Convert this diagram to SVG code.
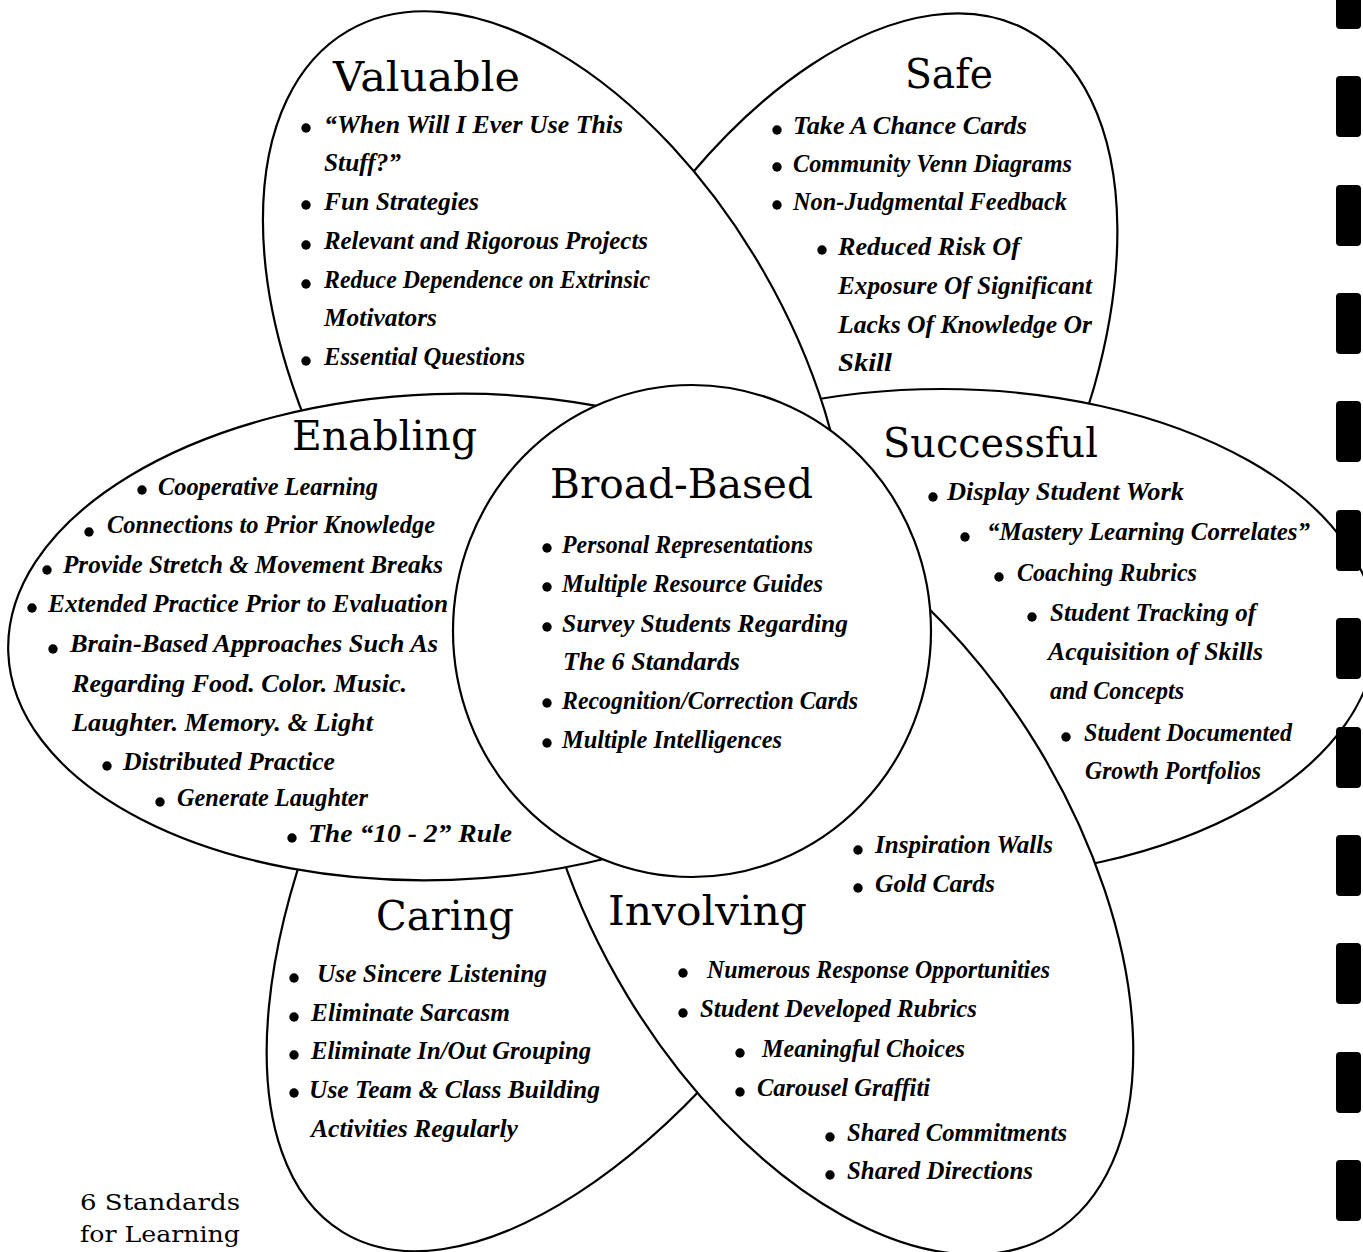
<svg xmlns="http://www.w3.org/2000/svg" width="1363" height="1252" viewBox="0 0 1363 1252">
  <style>
    .petal { fill: #ffffff; stroke: #000000; stroke-width: 2.2; }
    .title { font-family: "DejaVu Serif", "Liberation Serif", serif; font-size: 41px; fill: #000000; }
    .item { font-family: "Liberation Serif", "DejaVu Serif", serif; font-style: italic; font-weight: bold; font-size: 25px; fill: #000000; }
    .dot { fill: #000000; }
    .note { font-family: "DejaVu Serif", "Liberation Serif", serif; font-size: 23px; fill: #000000; }
    .hole { fill: #000000; }
  </style>
  <defs>
    <circle id="bullet" r="4.7" class="dot"/>
  </defs>
  <rect x="0" y="0" width="1363" height="1252" fill="#ffffff"/>

  <!-- petals are stacked back to front -->
  <g id="caring">
    <ellipse class="petal" cx="617" cy="781" rx="528" ry="255" transform="rotate(121.3 617 781)"/>
    <text class="title" x="376" y="930" textLength="138" lengthAdjust="spacingAndGlyphs">Caring</text>
    <use href="#bullet" x="294" y="978"/>
    <use href="#bullet" x="294" y="1017"/>
    <use href="#bullet" x="294" y="1055"/>
    <use href="#bullet" x="294" y="1093"/>
    <text class="item" x="317" y="982" textLength="230" lengthAdjust="spacingAndGlyphs">Use Sincere Listening</text>
    <text class="item" x="311" y="1021" textLength="199" lengthAdjust="spacingAndGlyphs">Eliminate Sarcasm</text>
    <text class="item" x="311" y="1059" textLength="280" lengthAdjust="spacingAndGlyphs">Eliminate In/Out Grouping</text>
    <text class="item" x="309" y="1098" textLength="291" lengthAdjust="spacingAndGlyphs">Use Team &amp; Class Building</text>
    <text class="item" x="311" y="1137" textLength="207" lengthAdjust="spacingAndGlyphs">Activities Regularly</text>
  </g>

  <g id="safe">
    <ellipse class="petal" cx="815" cy="427" rx="450" ry="245" transform="rotate(-62 815 427)"/>
    <text class="title" x="905" y="88" textLength="88" lengthAdjust="spacingAndGlyphs">Safe</text>
    <use href="#bullet" x="777" y="130"/>
    <use href="#bullet" x="777" y="167"/>
    <use href="#bullet" x="777" y="205"/>
    <use href="#bullet" x="822" y="250"/>
    <text class="item" x="793" y="134" textLength="234" lengthAdjust="spacingAndGlyphs">Take A Chance Cards</text>
    <text class="item" x="793" y="172" textLength="279" lengthAdjust="spacingAndGlyphs">Community Venn Diagrams</text>
    <text class="item" x="793" y="210" textLength="274" lengthAdjust="spacingAndGlyphs">Non-Judgmental Feedback</text>
    <text class="item" x="838" y="255" textLength="182" lengthAdjust="spacingAndGlyphs">Reduced Risk Of</text>
    <text class="item" x="838" y="294" textLength="254" lengthAdjust="spacingAndGlyphs">Exposure Of Significant</text>
    <text class="item" x="838" y="333" textLength="254" lengthAdjust="spacingAndGlyphs">Lacks Of Knowledge Or</text>
    <text class="item" x="838" y="371" textLength="54" lengthAdjust="spacingAndGlyphs">Skill</text>
  </g>

  <g id="successful">
    <ellipse class="petal" cx="942" cy="634" rx="434" ry="245"/>
    <text class="title" x="883" y="457" textLength="215" lengthAdjust="spacingAndGlyphs">Successful</text>
    <use href="#bullet" x="933" y="497"/>
    <use href="#bullet" x="965" y="537"/>
    <use href="#bullet" x="999" y="577"/>
    <use href="#bullet" x="1032" y="617"/>
    <use href="#bullet" x="1066" y="737"/>
    <text class="item" x="947" y="500" textLength="237" lengthAdjust="spacingAndGlyphs">Display Student Work</text>
    <text class="item" x="987" y="540" textLength="323" lengthAdjust="spacingAndGlyphs">“Mastery Learning Correlates”</text>
    <text class="item" x="1017" y="581" textLength="180" lengthAdjust="spacingAndGlyphs">Coaching Rubrics</text>
    <text class="item" x="1050" y="621" textLength="206" lengthAdjust="spacingAndGlyphs">Student Tracking of</text>
    <text class="item" x="1048" y="660" textLength="215" lengthAdjust="spacingAndGlyphs">Acquisition of Skills</text>
    <text class="item" x="1050" y="699" textLength="134" lengthAdjust="spacingAndGlyphs">and Concepts</text>
    <text class="item" x="1084" y="741" textLength="208" lengthAdjust="spacingAndGlyphs">Student Documented</text>
    <text class="item" x="1085" y="779" textLength="176" lengthAdjust="spacingAndGlyphs">Growth Portfolios</text>
  </g>

  <g id="valuable">
    <ellipse class="petal" cx="556" cy="390" rx="415" ry="239" transform="rotate(60 556 390)"/>
    <text class="title" x="333" y="91" textLength="187" lengthAdjust="spacingAndGlyphs">Valuable</text>
    <use href="#bullet" x="306" y="128"/>
    <use href="#bullet" x="306" y="205"/>
    <use href="#bullet" x="306" y="245"/>
    <use href="#bullet" x="306" y="284"/>
    <use href="#bullet" x="306" y="361"/>
    <text class="item" x="324" y="133" textLength="299" lengthAdjust="spacingAndGlyphs">“When Will I Ever Use This</text>
    <text class="item" x="324" y="171" textLength="77" lengthAdjust="spacingAndGlyphs">Stuff?”</text>
    <text class="item" x="324" y="210" textLength="155" lengthAdjust="spacingAndGlyphs">Fun Strategies</text>
    <text class="item" x="324" y="249" textLength="324" lengthAdjust="spacingAndGlyphs">Relevant and Rigorous Projects</text>
    <text class="item" x="324" y="288" textLength="326" lengthAdjust="spacingAndGlyphs">Reduce Dependence on Extrinsic</text>
    <text class="item" x="324" y="326" textLength="113" lengthAdjust="spacingAndGlyphs">Motivators</text>
    <text class="item" x="324" y="365" textLength="201" lengthAdjust="spacingAndGlyphs">Essential Questions</text>
  </g>

  <g id="involving">
    <ellipse class="petal" cx="833" cy="872" rx="423" ry="240" transform="rotate(58.8 833 872)"/>
    <text class="title" x="608" y="925" textLength="199" lengthAdjust="spacingAndGlyphs">Involving</text>
    <use href="#bullet" x="858" y="850"/>
    <use href="#bullet" x="858" y="888"/>
    <use href="#bullet" x="683" y="973"/>
    <use href="#bullet" x="683" y="1013"/>
    <use href="#bullet" x="740" y="1053"/>
    <use href="#bullet" x="740" y="1092"/>
    <use href="#bullet" x="830" y="1137"/>
    <use href="#bullet" x="830" y="1175"/>
    <text class="item" x="875" y="853" textLength="178" lengthAdjust="spacingAndGlyphs">Inspiration Walls</text>
    <text class="item" x="875" y="892" textLength="120" lengthAdjust="spacingAndGlyphs">Gold Cards</text>
    <text class="item" x="707" y="978" textLength="343" lengthAdjust="spacingAndGlyphs">Numerous Response Opportunities</text>
    <text class="item" x="700" y="1017" textLength="277" lengthAdjust="spacingAndGlyphs">Student Developed Rubrics</text>
    <text class="item" x="762" y="1057" textLength="203" lengthAdjust="spacingAndGlyphs">Meaningful Choices</text>
    <text class="item" x="757" y="1096" textLength="173" lengthAdjust="spacingAndGlyphs">Carousel Graffiti</text>
    <text class="item" x="847" y="1141" textLength="220" lengthAdjust="spacingAndGlyphs">Shared Commitments</text>
    <text class="item" x="847" y="1179" textLength="186" lengthAdjust="spacingAndGlyphs">Shared Directions</text>
  </g>

  <g id="enabling">
    <ellipse class="petal" cx="443" cy="637" rx="435" ry="243" transform="rotate(-2 443 637)"/>
    <text class="title" x="292" y="450" textLength="185" lengthAdjust="spacingAndGlyphs">Enabling</text>
    <use href="#bullet" x="142" y="490"/>
    <use href="#bullet" x="89" y="532"/>
    <use href="#bullet" x="47" y="570"/>
    <use href="#bullet" x="32" y="608"/>
    <use href="#bullet" x="53" y="649"/>
    <use href="#bullet" x="107" y="766"/>
    <use href="#bullet" x="160" y="802"/>
    <use href="#bullet" x="292" y="838"/>
    <text class="item" x="158" y="495" textLength="220" lengthAdjust="spacingAndGlyphs">Cooperative Learning</text>
    <text class="item" x="107" y="533" textLength="328" lengthAdjust="spacingAndGlyphs">Connections to Prior Knowledge</text>
    <text class="item" x="63" y="573" textLength="380" lengthAdjust="spacingAndGlyphs">Provide Stretch &amp; Movement Breaks</text>
    <text class="item" x="48" y="612" textLength="400" lengthAdjust="spacingAndGlyphs">Extended Practice Prior to Evaluation</text>
    <text class="item" x="70" y="652" textLength="368" lengthAdjust="spacingAndGlyphs">Brain-Based Approaches Such As</text>
    <text class="item" x="72" y="692" textLength="335" lengthAdjust="spacingAndGlyphs">Regarding Food. Color. Music.</text>
    <text class="item" x="72" y="731" textLength="301" lengthAdjust="spacingAndGlyphs">Laughter. Memory. &amp; Light</text>
    <text class="item" x="123" y="770" textLength="212" lengthAdjust="spacingAndGlyphs">Distributed Practice</text>
    <text class="item" x="177" y="806" textLength="191" lengthAdjust="spacingAndGlyphs">Generate Laughter</text>
    <text class="item" x="308" y="842" textLength="204" lengthAdjust="spacingAndGlyphs">The “10 - 2” Rule</text>
  </g>

  <g id="broad-based">
    <ellipse class="petal" cx="692" cy="631" rx="239" ry="246"/>
    <text class="title" x="550" y="498" textLength="263" lengthAdjust="spacingAndGlyphs">Broad-Based</text>
    <use href="#bullet" x="547" y="548"/>
    <use href="#bullet" x="547" y="587"/>
    <use href="#bullet" x="547" y="627"/>
    <use href="#bullet" x="547" y="703"/>
    <use href="#bullet" x="547" y="743"/>
    <text class="item" x="562" y="553" textLength="251" lengthAdjust="spacingAndGlyphs">Personal Representations</text>
    <text class="item" x="562" y="592" textLength="261" lengthAdjust="spacingAndGlyphs">Multiple Resource Guides</text>
    <text class="item" x="562" y="632" textLength="286" lengthAdjust="spacingAndGlyphs">Survey Students Regarding</text>
    <text class="item" x="563" y="670" textLength="177" lengthAdjust="spacingAndGlyphs">The 6 Standards</text>
    <text class="item" x="562" y="709" textLength="296" lengthAdjust="spacingAndGlyphs">Recognition/Correction Cards</text>
    <text class="item" x="562" y="748" textLength="220" lengthAdjust="spacingAndGlyphs">Multiple Intelligences</text>
  </g>

  <g id="caption">
    <text class="note" x="80" y="1210" textLength="160" lengthAdjust="spacingAndGlyphs">6 Standards</text>
    <text class="note" x="80" y="1242" textLength="160" lengthAdjust="spacingAndGlyphs">for Learning</text>
  </g>

  <!-- punched binder holes along the right margin -->
  <g id="binder-holes">
    <rect class="hole" x="1336" y="-32" width="25" height="61" rx="4"/>
    <rect class="hole" x="1336" y="76" width="25" height="61" rx="4"/>
    <rect class="hole" x="1336" y="185" width="25" height="61" rx="4"/>
    <rect class="hole" x="1336" y="293" width="25" height="61" rx="4"/>
    <rect class="hole" x="1336" y="401" width="25" height="61" rx="4"/>
    <rect class="hole" x="1336" y="510" width="25" height="61" rx="4"/>
    <rect class="hole" x="1336" y="618" width="25" height="61" rx="4"/>
    <rect class="hole" x="1336" y="727" width="25" height="61" rx="4"/>
    <rect class="hole" x="1336" y="835" width="25" height="61" rx="4"/>
    <rect class="hole" x="1336" y="943" width="25" height="61" rx="4"/>
    <rect class="hole" x="1336" y="1052" width="25" height="61" rx="4"/>
    <rect class="hole" x="1336" y="1160" width="25" height="61" rx="4"/>
  </g>
</svg>
